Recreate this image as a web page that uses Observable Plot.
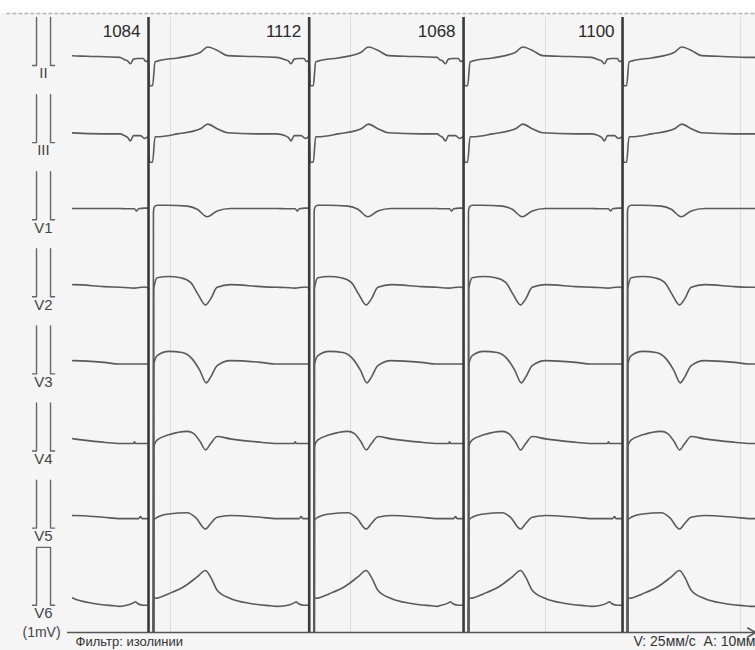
<!DOCTYPE html>
<html>
<head>
<meta charset="utf-8">
<script src="https://cdn.jsdelivr.net/npm/d3@7"></script>
<script src="https://cdn.jsdelivr.net/npm/@observablehq/plot@0.6"></script>
<style>
  html, body { margin: 0; padding: 0; background: #ffffff; }
  #chart { width: 755px; height: 650px; }
</style>
</head>
<body>
<div id="chart"></div>
<script>
// ---- data (x in ms, amplitude in mV) ----
const leads = ["II", "III", "V1", "V2", "V3", "V4", "V5", "V6"];
const rrIntervals = [1084, 1112, 1068, 1100];           // RR labels above each paced beat
const leadDcOffset = [-0.02, 0, 0.06, 0.03, 0.05, 0.01, 0.045, -0.12];

// one paced complex per lead, [ms from pacing spike, mV]; null = pen lift (off-scale QRS)
const waveII  = [[-166,0],[-145,-0.02],[-125,-0.07],[-104,0.01],[-76,0.02],[-35,0.02],[-21,-0.03],[0,-0.02],[7,-0.45],[28,-0.45],[45,-0.04],[83,-0.01],[200,0.03],[360,0.13],[408,0.22],[477,0.16],[547,0.07],[657,0.06],[886,0.04]];
const waveIII = [[-166,0],[-145,-0.03],[-125,-0.09],[-104,0],[-55,0],[-28,-0.05],[0,-0.02],[7,-0.46],[28,-0.46],[45,-0.02],[60,-0.02],[200,0.03],[360,0.12],[410,0.2],[475,0.12],[545,0.05],[775,0.03],[886,0.03]];
const waveV1  = [[-166,0.01],[-97,0.01],[-83,-0.03],[-69,0.01],[-28,0.02],[0,0.02],[1,null],[31,-20],[34,-0.05],[40,0.04],[60,0.07],[129,0.07],[268,0.055],[337,0],[406,-0.13],[475,-0.03],[567,0.014],[886,0.014]];
const waveV2  = [[-166,0.01],[-100,0],[-28,0.02],[0,0],[1,null],[31,-20],[36,-0.02],[45,0.1],[60,0.18],[140,0.2],[221,0.18],[291,0.1],[341,-0.1],[394,-0.29],[429,-0.19],[475,0.014],[567,0.06],[775,0.026],[886,0.014]];
const waveV3  = [[-166,0],[-28,0],[0,0],[1,null],[31,-20],[36,-0.02],[45,0.08],[60,0.147],[140,0.22],[233,0.2],[302,0.09],[355,-0.11],[399,-0.325],[429,-0.23],[475,-0.026],[567,0.06],[775,0.03],[886,0]];
const waveV4  = [[-166,0],[-104,0],[-97,0.03],[-90,0],[0,0],[1,null],[31,-20],[36,-0.05],[60,0.064],[140,0.15],[268,0.21],[313,0.17],[360,0.022],[394,-0.11],[429,-0.005],[475,0.12],[567,0.08],[775,0.022],[886,0]];
const waveV5  = [[-166,0],[-69,0],[-55,0.035],[-45,0],[0,0],[1,null],[31,-20],[36,-0.03],[60,0.022],[140,0.08],[268,0.1],[325,0.022],[394,-0.18],[429,-0.09],[475,0.022],[567,0.052],[775,0.022],[886,0]];
const waveV6  = [[-166,-0.01],[-104,0.04],[-90,0.06],[-76,0.03],[-35,0],[0,0],[1,null],[30,-20],[33,-0.12],[36,0.14],[48,0.12],[140,0.2],[244,0.32],[337,0.49],[394,0.6],[429,0.49],[475,0.26],[567,0.115],[706,0.03],[844,-0.01],[886,-0.02]];

const footerLeft = "Фильтр: изолинии";
const footerRight = "V: 25мм/с  A: 10мм";
const calibLabel = "(1mV)";
const showThroughCols = [152, 1398, 2747, 4097];     // faint table lines from the reverse side

// ---- derived ----
const waves = [waveII, waveIII, waveV1, waveV2, waveV3, waveV4, waveV5, waveV6];
const leadGap = 1.334;      // mV between lead baselines
const xDomain = [-526, 4200];
const yDomain = [-9.93, 0.71];

const beats = [-rrIntervals[0], 0];
for (let i = 1; i < rrIntervals.length; i++) beats.push(beats[beats.length - 1] + rrIntervals[i]);

const trace = [];
leads.forEach((lead, li) => {
  const base = -li * leadGap + leadDcOffset[li];
  let last = null;
  beats.forEach(b => {
    waves[li].forEach(([dt, v]) => {
      const y = v === null ? null : v + base;
      trace.push({lead, t: b + dt, y});
      if (y !== null) last = y;
    });
  });
  trace.push({lead, t: xDomain[1] + 50, y: last});
});

const rrLabels = rrIntervals.map((rr, i) => ({t: beats[i + 1], rr: String(rr)}));

const calib = [];
leads.forEach((lead, li) => {
  const base = -li * leadGap;
  const lo = base - 0.12;
  if (lead === "V6") {
    [[-803, lo], [-775, lo], [-775, base + 0.88], [-678, base + 0.88], [-678, lo], [-650, lo]]
      .forEach(([t, y]) => calib.push({k: lead, t, y}));
  } else {
    [[-803, lo], [-775, lo], [-775, base + 0.71]].forEach(([t, y]) => calib.push({k: lead + "a", t, y}));
    [[-678, base + 0.71], [-678, lo], [-650, lo]].forEach(([t, y]) => calib.push({k: lead + "b", t, y}));
  }
});
const leadLabels = leads.map((lead, li) => ({lead, t: -727, y: -li * leadGap - 0.26}));

const font = "'Liberation Sans', Arial, Helvetica, sans-serif";

const chart = Plot.plot({
  width: 755,
  height: 650,
  marginLeft: 72,
  marginRight: 0,
  marginTop: 17,
  marginBottom: 18,
  x: {domain: xDomain, axis: null},
  y: {domain: yDomain, axis: null},
  style: {background: "#ffffff", fontFamily: font, overflow: "visible"},
  marks: [
    Plot.rect([0], {x1: -1200, x2: 4400, y1: -12, y2: 0.78, fill: "#f5f5f5"}),
    Plot.ruleX(showThroughCols, {stroke: "#dddddd", strokeWidth: 1}),
    Plot.ruleY([0.78], {x1: -980, x2: 4400, stroke: "#b5b5b5", strokeWidth: 1.6, strokeDasharray: "4,2"}),
    Plot.line(trace, {x: "t", y: "y", z: "lead", stroke: "#5a5a5a", strokeWidth: 1.6, curve: "monotone-x", clip: true}),
    Plot.ruleX(beats, {stroke: "#3a3a3a", strokeWidth: 2.6, clip: true}),
    Plot.arrow([0], {x1: -560, x2: 4200, y1: yDomain[0], y2: yDomain[0], stroke: "#555", strokeWidth: 1.5, headLength: 9, bend: 0}),
    Plot.text(rrLabels, {x: "t", y: 0.47, text: "rr", textAnchor: "end", dx: -8, fontSize: 17, fill: "#2a2a2a"}),
    Plot.line(calib, {x: "t", y: "y", z: "k", stroke: "#666", strokeWidth: 1.4}),
    Plot.text(leadLabels, {x: "t", y: "y", text: "lead", fontSize: 15, fill: "#444"}),
    Plot.text([calibLabel], {x: -740, y: yDomain[0], text: d => d, fontSize: 14, fill: "#444"}),
    Plot.text([footerLeft], {x: -505, y: -10.09, text: d => d, textAnchor: "start", fontSize: 13, fill: "#333"}),
    Plot.text([footerRight], {x: 4200, y: -10.08, text: d => d, textAnchor: "end", fontSize: 14, fill: "#333"})
  ]
});
document.getElementById("chart").appendChild(chart);
</script>
</body>
</html>
